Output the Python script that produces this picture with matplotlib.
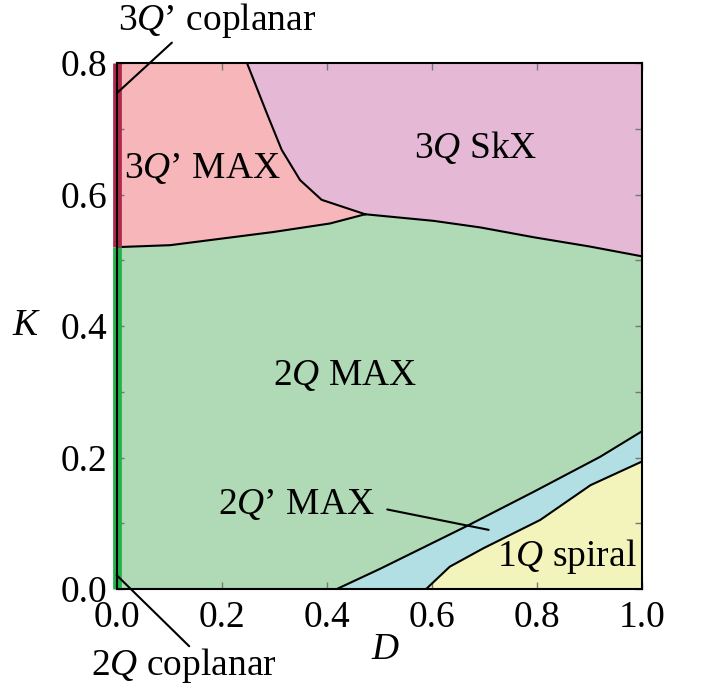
import numpy as np
import matplotlib
matplotlib.use("Agg")
import matplotlib.pyplot as plt
from matplotlib.ticker import MultipleLocator

plt.rcParams["font.family"] = ["Liberation Serif", "DejaVu Serif"]
plt.rcParams["mathtext.fontset"] = "custom"
plt.rcParams["mathtext.rm"] = "Liberation Serif"
plt.rcParams["mathtext.it"] = "Liberation Serif:italic"

# phase boundaries (D, K)
skx_edge_D = [0.248, 0.286, 0.314, 0.349, 0.390, 0.473]
skx_edge_K = [0.800, 0.723, 0.668, 0.622, 0.592, 0.570]

max3_edge_D = [0.0, 0.102, 0.298, 0.406, 0.473]
max3_edge_K = [0.520, 0.523, 0.543, 0.556, 0.570]

skx_low_D = [0.473, 0.603, 0.692, 0.794, 0.900, 1.0]
skx_low_K = [0.570, 0.560, 0.550, 0.535, 0.521, 0.506]

max2p_top_D = [0.419, 0.502, 0.667, 0.794, 0.920, 1.0]
max2p_top_K = [0.0, 0.031, 0.096, 0.148, 0.201, 0.240]

spiral_top_D = [0.589, 0.634, 0.698, 0.806, 0.902, 1.0]
spiral_top_K = [0.0, 0.034, 0.062, 0.105, 0.158, 0.194]

# coplanar phases on the D = 0 line
cop3_K = [0.520, 0.800]
cop2_K = [0.0, 0.520]

D_MAX, K_MAX = 1.0, 0.8

c_pink = "#f7b6b9"
c_purple = "#e5b9d6"
c_green = "#b0d9b5"
c_blue = "#b1dfe3"
c_yellow = "#f3f4bc"
c_red_strip = "#b0284b"
c_green_strip = "#22b24a"

fig = plt.figure(figsize=(7.04, 6.92), dpi=100)
ax = fig.add_axes([0.1658, 0.1488, 0.7462, 0.7601])

r = lambda a: list(a)[::-1]

# 3Q' MAX
ax.fill(max3_edge_D + r(skx_edge_D) + [0.0],
        max3_edge_K + r(skx_edge_K) + [K_MAX], color=c_pink, lw=0)
# 3Q SkX
ax.fill(skx_low_D + [D_MAX] + skx_edge_D,
        skx_low_K + [K_MAX] + skx_edge_K, color=c_purple, lw=0)
# 2Q MAX
ax.fill([0.0] + max2p_top_D + r(skx_low_D) + r(max3_edge_D),
        [0.0] + max2p_top_K + r(skx_low_K) + r(max3_edge_K), color=c_green, lw=0)
# 2Q' MAX
ax.fill(max2p_top_D + r(spiral_top_D),
        max2p_top_K + r(spiral_top_K), color=c_blue, lw=0)
# 1Q spiral
ax.fill(spiral_top_D + [D_MAX],
        spiral_top_K + [0.0], color=c_yellow, lw=0)

for xs, ys in [(skx_edge_D, skx_edge_K), (max3_edge_D, max3_edge_K),
               (skx_low_D, skx_low_K), (max2p_top_D, max2p_top_K),
               (spiral_top_D, spiral_top_K)]:
    ax.plot(xs, ys, color="black", lw=1.5, zorder=3)

ax.plot([0, 0], cop3_K, color=c_red_strip, lw=6.3, solid_capstyle="butt",
        clip_on=False, zorder=4)
ax.plot([0, 0], cop2_K, color=c_green_strip, lw=6.3, solid_capstyle="butt",
        clip_on=False, zorder=4)

ax.set_xlim(0, D_MAX)
ax.set_ylim(0, K_MAX)
ax.xaxis.set_major_locator(MultipleLocator(0.2))
ax.yaxis.set_major_locator(MultipleLocator(0.2))
ax.yaxis.set_minor_locator(MultipleLocator(0.1))
ax.tick_params(which="both", direction="in", top=True, right=True,
               length=5, width=1, color="#777777", labelsize=27)
ax.tick_params(axis="x", pad=8)
ax.tick_params(axis="y", pad=7)
ax.xaxis.set_major_formatter(matplotlib.ticker.FormatStrFormatter("%.1f"))
ax.yaxis.set_major_formatter(matplotlib.ticker.FormatStrFormatter("%.1f"))
for s in ax.spines.values():
    s.set_linewidth(1.5)
    s.set_zorder(5)

ax.set_xlabel("$D$", fontsize=27)
ax.set_ylabel("$K$", fontsize=27, rotation=0)
ax.xaxis.set_label_coords(0.511, -0.116)
ax.yaxis.set_label_coords(-0.171, 0.50)
ax.xaxis.label.set_va("center")
ax.yaxis.label.set_va("center")

fs = 27
ax.text(0.163, 0.640, "3$Q$’ MAX", fontsize=fs, ha="center", va="center")
ax.text(0.683, 0.671, "3$Q$ SkX", fontsize=fs, ha="center", va="center")
ax.text(0.434, 0.325, "2$Q$ MAX", fontsize=fs, ha="center", va="center")
ax.text(0.856, 0.049, "1$Q$ spiral", fontsize=fs, ha="center", va="center")
ax.text(0.342, 0.128, "2$Q$’ MAX", fontsize=fs, ha="center", va="center")
ax.text(0.191, 0.865, "3$Q$’ coplanar", fontsize=fs, ha="center", va="center",
        clip_on=False)
ax.text(0.128, -0.116, "2$Q$ coplanar", fontsize=fs, ha="center", va="center",
        clip_on=False)

line_kw = dict(arrowstyle="-", color="black", lw=1.5, shrinkA=0, shrinkB=0)
ax.annotate("", xy=(0.0, 0.754), xytext=(0.105, 0.831), arrowprops=line_kw,
            annotation_clip=False, zorder=6)
ax.annotate("", xy=(0.0, 0.021), xytext=(0.138, -0.087), arrowprops=line_kw,
            annotation_clip=False, zorder=6)
ax.annotate("", xy=(0.708, 0.090), xytext=(0.515, 0.121), arrowprops=line_kw,
            annotation_clip=False, zorder=6)

fig.savefig("out.png", dpi=100)
